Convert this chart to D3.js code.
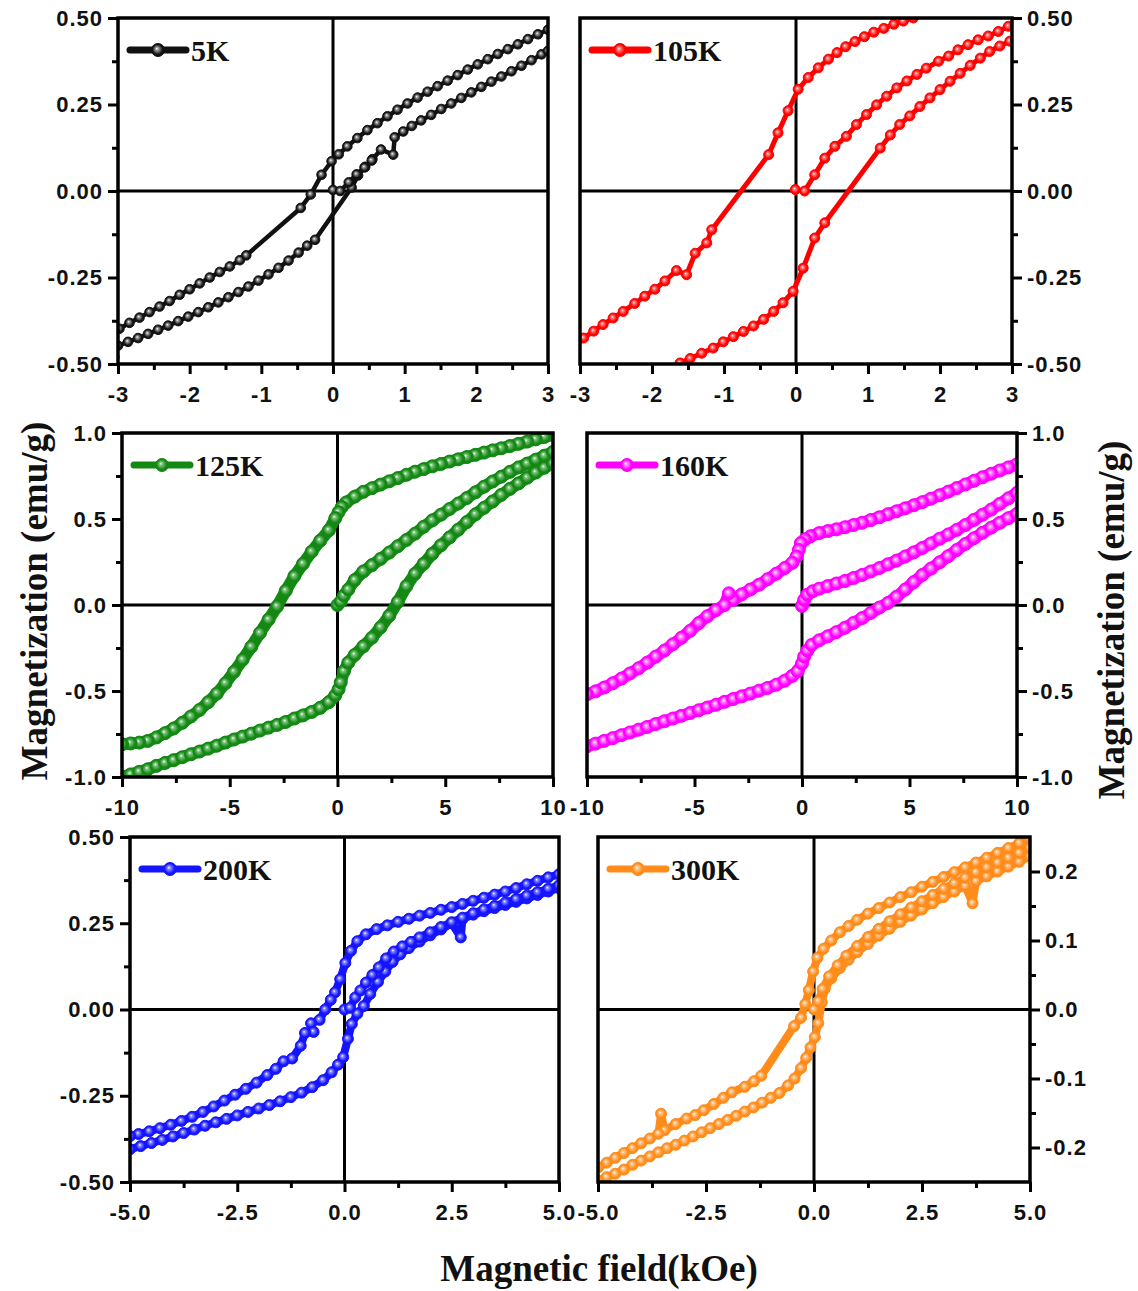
<!DOCTYPE html>
<html lang="en">
<head>
<meta charset="UTF-8">
<title>M-H hysteresis loops</title>
<script src="https://d3js.org/d3.v7.min.js"></script>
<style>
  body { margin: 0; background: #fff; }
  .tick text { font-family: "Liberation Sans", Arial, sans-serif; font-weight: bold; font-size: 22px; letter-spacing: 1px; fill: #111; }
  .tick line { stroke: #000; stroke-width: 3px; }
  .serif { font-family: "Liberation Serif", "Times New Roman", serif; font-weight: bold; fill: #111; }
</style>
</head>
<body>
<svg id="chart" width="1138" height="1291"></svg>
<script>
// ---- data: [field (kOe), magnetization (emu/g)] ----
const k5Desc = [[3.00,0.466],[2.86,0.453],[2.72,0.439],[2.58,0.424],[2.44,0.410],[2.30,0.396],[2.16,0.381],[2.02,0.366],[1.88,0.351],[1.74,0.335],[1.60,0.319],[1.46,0.303],[1.32,0.287],[1.18,0.270],[1.04,0.253],[0.90,0.235],[0.76,0.216],[0.62,0.196],[0.48,0.176],[0.34,0.153],[0.20,0.129],[0.08,0.106],[-0.02,0.086],[-0.16,0.047],[-0.31,-0.010],[-0.45,-0.049],[-1.21,-0.186],[-1.30,-0.200],[-1.44,-0.218],[-1.58,-0.234],[-1.72,-0.250],[-1.86,-0.267],[-2.00,-0.284],[-2.14,-0.300],[-2.28,-0.318],[-2.42,-0.334],[-2.56,-0.350],[-2.70,-0.366],[-2.84,-0.381],[-2.98,-0.398],[-3.05,-0.405]];
const k5Asc = [[-3.05,-0.480],[-3.00,-0.447],[-2.86,-0.436],[-2.72,-0.425],[-2.58,-0.413],[-2.44,-0.401],[-2.30,-0.389],[-2.16,-0.376],[-2.02,-0.363],[-1.88,-0.350],[-1.74,-0.336],[-1.60,-0.322],[-1.46,-0.307],[-1.32,-0.292],[-1.18,-0.276],[-1.04,-0.259],[-0.90,-0.241],[-0.76,-0.222],[-0.62,-0.201],[-0.48,-0.178],[-0.36,-0.158],[-0.25,-0.141],[0.26,0.010],[0.35,0.045],[0.45,0.070],[0.55,0.092],[0.67,0.120],[0.84,0.105],[0.86,0.155],[0.98,0.172],[1.10,0.188],[1.23,0.204],[1.37,0.220],[1.51,0.237],[1.65,0.253],[1.79,0.269],[1.93,0.285],[2.07,0.301],[2.21,0.316],[2.35,0.331],[2.49,0.346],[2.63,0.362],[2.77,0.378],[2.91,0.395],[3.00,0.405]];
const k5Virgin = [[0.00,0.003],[0.10,0.000],[0.22,0.025],[0.33,0.048],[0.44,0.068],[0.54,0.088]];

const k105Desc = [[3.00,0.600],[2.80,0.588],[2.60,0.575],[2.40,0.562],[2.20,0.548],[2.00,0.533],[1.80,0.516],[1.63,0.500],[1.49,0.491],[1.36,0.482],[1.22,0.470],[1.08,0.459],[0.95,0.446],[0.82,0.432],[0.69,0.417],[0.57,0.400],[0.45,0.381],[0.31,0.356],[0.17,0.328],[0.03,0.294],[-0.11,0.232],[-0.25,0.168],[-0.38,0.105],[-1.17,-0.112],[-1.24,-0.150],[-1.40,-0.180],[-1.52,-0.242],[-1.66,-0.230],[-1.82,-0.260],[-1.96,-0.284],[-2.10,-0.304],[-2.24,-0.325],[-2.40,-0.348],[-2.54,-0.367],[-2.68,-0.386],[-2.81,-0.405],[-2.95,-0.425],[-3.05,-0.438]];
const k105Asc = [[-3.00,-0.600],[-2.60,-0.580],[-2.20,-0.555],[-1.90,-0.525],[-1.61,-0.497],[-1.47,-0.484],[-1.31,-0.469],[-1.15,-0.454],[-1.01,-0.436],[-0.87,-0.421],[-0.73,-0.406],[-0.59,-0.390],[-0.45,-0.371],[-0.31,-0.348],[-0.18,-0.323],[-0.04,-0.290],[0.10,-0.223],[0.26,-0.136],[0.40,-0.092],[1.17,0.124],[1.31,0.162],[1.44,0.192],[1.58,0.217],[1.72,0.244],[1.86,0.269],[2.00,0.293],[2.14,0.317],[2.28,0.340],[2.42,0.363],[2.56,0.384],[2.69,0.403],[2.83,0.419],[2.97,0.433],[3.05,0.440]];
const k105Virgin = [[-0.01,0.004],[0.12,0.000],[0.26,0.047],[0.40,0.095],[0.54,0.129],[0.70,0.158],[0.84,0.192],[0.98,0.221],[1.12,0.249],[1.26,0.274],[1.40,0.298],[1.54,0.318],[1.68,0.337],[1.81,0.355],[1.98,0.375],[2.12,0.390],[2.25,0.408],[2.39,0.423],[2.53,0.437],[2.67,0.448],[2.81,0.461],[2.95,0.476],[3.05,0.484]];

const k125Desc = [[10.0,0.990],[9.6,0.977],[9.2,0.963],[8.8,0.950],[8.4,0.937],[8.0,0.924],[7.6,0.911],[7.2,0.899],[6.8,0.886],[6.4,0.873],[6.0,0.860],[5.6,0.847],[5.2,0.834],[4.8,0.820],[4.4,0.806],[4.0,0.790],[3.6,0.775],[3.2,0.757],[2.8,0.738],[2.4,0.719],[2.0,0.700],[1.6,0.679],[1.2,0.658],[0.8,0.630],[0.4,0.596],[0.2,0.570],[0.05,0.540],[-0.1,0.505],[-0.4,0.434],[-0.8,0.374],[-1.2,0.310],[-1.6,0.240],[-2.0,0.168],[-2.4,0.083],[-2.8,-0.008],[-3.2,-0.085],[-3.6,-0.163],[-4.0,-0.243],[-4.4,-0.318],[-4.8,-0.388],[-5.2,-0.455],[-5.6,-0.515],[-6.0,-0.565],[-6.4,-0.610],[-6.8,-0.648],[-7.2,-0.685],[-7.6,-0.718],[-8.0,-0.745],[-8.4,-0.770],[-8.8,-0.790],[-9.2,-0.800],[-9.6,-0.805],[-10.0,-0.810]];
const k125Asc = [[-10.0,-1.000],[-9.6,-0.985],[-9.2,-0.970],[-8.8,-0.955],[-8.4,-0.935],[-8.0,-0.918],[-7.6,-0.902],[-7.2,-0.885],[-6.8,-0.868],[-6.4,-0.852],[-6.0,-0.835],[-5.6,-0.818],[-5.2,-0.800],[-4.8,-0.782],[-4.4,-0.765],[-4.0,-0.748],[-3.6,-0.730],[-3.2,-0.713],[-2.8,-0.697],[-2.4,-0.680],[-2.0,-0.660],[-1.6,-0.642],[-1.2,-0.622],[-0.8,-0.598],[-0.4,-0.565],[-0.1,-0.525],[0.05,-0.490],[0.15,-0.450],[0.3,-0.385],[0.5,-0.335],[0.8,-0.290],[1.2,-0.240],[1.6,-0.190],[2.0,-0.130],[2.4,-0.063],[2.8,0.018],[3.2,0.110],[3.6,0.182],[4.0,0.240],[4.4,0.298],[4.8,0.347],[5.2,0.393],[5.6,0.438],[6.0,0.482],[6.4,0.527],[6.8,0.565],[7.2,0.602],[7.6,0.640],[8.0,0.675],[8.4,0.707],[8.8,0.740],[9.2,0.770],[9.6,0.798],[10.0,0.824]];
const k125Virgin = [[0.0,0.000],[0.15,0.020],[0.3,0.055],[0.5,0.090],[0.8,0.145],[1.2,0.195],[1.6,0.232],[2.0,0.268],[2.4,0.305],[2.8,0.342],[3.2,0.378],[3.6,0.415],[4.0,0.455],[4.4,0.492],[4.8,0.525],[5.2,0.558],[5.6,0.590],[6.0,0.622],[6.4,0.655],[6.8,0.688],[7.2,0.718],[7.6,0.746],[8.0,0.774],[8.4,0.800],[8.8,0.822],[9.2,0.845],[9.6,0.868],[10.0,0.890]];

const k160Desc = [[10.0,0.818],[9.6,0.800],[9.2,0.782],[8.8,0.763],[8.4,0.743],[8.0,0.722],[7.6,0.701],[7.2,0.680],[6.8,0.659],[6.4,0.638],[6.0,0.618],[5.6,0.598],[5.2,0.580],[4.8,0.562],[4.4,0.545],[4.0,0.528],[3.6,0.510],[3.2,0.494],[2.8,0.478],[2.4,0.465],[2.0,0.452],[1.6,0.440],[1.2,0.430],[0.8,0.418],[0.4,0.400],[0.15,0.382],[-0.05,0.360],[-0.15,0.320],[-0.25,0.282],[-0.45,0.245],[-0.8,0.215],[-1.2,0.182],[-1.6,0.150],[-2.0,0.118],[-2.4,0.090],[-2.8,0.062],[-3.2,0.030],[-3.4,0.068],[-3.6,0.000],[-4.0,-0.030],[-4.4,-0.065],[-4.8,-0.105],[-5.2,-0.150],[-5.6,-0.190],[-6.0,-0.228],[-6.4,-0.265],[-6.8,-0.300],[-7.2,-0.335],[-7.6,-0.368],[-8.0,-0.398],[-8.4,-0.428],[-8.8,-0.455],[-9.2,-0.480],[-9.6,-0.502],[-10.0,-0.520]];
const k160Asc = [[-10.0,-0.822],[-9.6,-0.806],[-9.2,-0.790],[-8.8,-0.774],[-8.4,-0.757],[-8.0,-0.741],[-7.6,-0.725],[-7.2,-0.709],[-6.8,-0.692],[-6.4,-0.676],[-6.0,-0.660],[-5.6,-0.644],[-5.2,-0.628],[-4.8,-0.612],[-4.4,-0.596],[-4.0,-0.580],[-3.6,-0.563],[-3.2,-0.547],[-2.8,-0.531],[-2.4,-0.515],[-2.0,-0.498],[-1.6,-0.482],[-1.2,-0.464],[-0.8,-0.440],[-0.45,-0.412],[-0.2,-0.385],[0.0,-0.340],[0.1,-0.300],[0.25,-0.265],[0.45,-0.232],[0.8,-0.205],[1.2,-0.182],[1.6,-0.158],[2.0,-0.132],[2.4,-0.104],[2.8,-0.076],[3.2,-0.046],[3.6,-0.015],[4.0,0.012],[4.4,0.048],[4.8,0.090],[5.2,0.133],[5.6,0.175],[6.0,0.212],[6.4,0.248],[6.8,0.284],[7.2,0.320],[7.6,0.355],[8.0,0.388],[8.4,0.420],[8.8,0.450],[9.2,0.478],[9.6,0.505],[10.0,0.530]];
const k160Virgin = [[0.0,-0.005],[0.1,0.030],[0.25,0.060],[0.5,0.080],[0.8,0.095],[1.2,0.110],[1.6,0.125],[2.0,0.140],[2.4,0.157],[2.8,0.175],[3.2,0.195],[3.6,0.215],[4.0,0.237],[4.4,0.258],[4.8,0.282],[5.2,0.306],[5.6,0.332],[6.0,0.358],[6.4,0.385],[6.8,0.410],[7.2,0.437],[7.6,0.465],[8.0,0.495],[8.4,0.525],[8.8,0.555],[9.2,0.588],[9.6,0.620],[10.0,0.652]];

const k200Desc = [[5.0,0.392],[4.75,0.383],[4.5,0.373],[4.25,0.363],[4.0,0.352],[3.75,0.342],[3.5,0.333],[3.25,0.324],[3.0,0.315],[2.75,0.306],[2.5,0.297],[2.25,0.289],[2.0,0.280],[1.75,0.272],[1.5,0.263],[1.25,0.254],[1.0,0.244],[0.75,0.233],[0.5,0.218],[0.3,0.198],[0.15,0.170],[0.02,0.135],[-0.1,0.088],[-0.22,0.050],[-0.32,0.028],[-0.45,0.000],[-0.58,-0.030],[-0.78,-0.040],[-0.72,-0.065],[-0.92,-0.068],[-1.02,-0.105],[-1.22,-0.142],[-1.42,-0.150],[-1.60,-0.172],[-1.80,-0.190],[-2.05,-0.212],[-2.3,-0.230],[-2.55,-0.247],[-2.8,-0.264],[-3.05,-0.281],[-3.3,-0.297],[-3.55,-0.311],[-3.8,-0.323],[-4.05,-0.334],[-4.3,-0.344],[-4.55,-0.353],[-4.8,-0.361],[-5.0,-0.367]];
const k200Asc = [[-5.0,-0.405],[-4.75,-0.396],[-4.5,-0.387],[-4.25,-0.378],[-4.0,-0.368],[-3.75,-0.358],[-3.5,-0.348],[-3.25,-0.337],[-3.0,-0.327],[-2.75,-0.317],[-2.5,-0.307],[-2.25,-0.297],[-2.0,-0.287],[-1.75,-0.277],[-1.5,-0.266],[-1.25,-0.254],[-1.0,-0.241],[-0.75,-0.225],[-0.5,-0.205],[-0.3,-0.182],[-0.15,-0.160],[-0.03,-0.138],[0.08,-0.085],[0.17,-0.042],[0.3,-0.012],[0.45,0.010],[0.6,0.045],[0.78,0.080],[0.95,0.110],[1.12,0.138],[1.3,0.160],[1.5,0.178],[1.75,0.197],[2.0,0.215],[2.25,0.232],[2.5,0.250],[2.71,0.209],[2.75,0.262],[3.0,0.275],[3.25,0.285],[3.5,0.294],[3.75,0.303],[4.0,0.312],[4.25,0.322],[4.5,0.332],[4.75,0.342],[5.0,0.352]];
const k200Virgin = [[0.0,0.000],[0.13,0.005],[0.25,0.035],[0.37,0.055],[0.5,0.078],[0.65,0.100],[0.8,0.122],[0.97,0.148],[1.15,0.168],[1.35,0.183],[1.55,0.196],[1.75,0.209],[2.0,0.224],[2.25,0.239],[2.5,0.253],[2.75,0.266],[3.0,0.279],[3.25,0.290],[3.5,0.300],[3.75,0.310],[4.0,0.320],[4.25,0.330],[4.5,0.340],[4.75,0.350],[5.0,0.360]];

const k300Desc = [[5.0,0.248],[4.75,0.241],[4.5,0.234],[4.25,0.227],[4.0,0.220],[3.75,0.213],[3.5,0.206],[3.25,0.199],[3.0,0.192],[2.75,0.185],[2.5,0.178],[2.25,0.170],[2.0,0.163],[1.75,0.155],[1.5,0.147],[1.25,0.139],[1.0,0.130],[0.8,0.121],[0.6,0.112],[0.4,0.100],[0.22,0.088],[0.08,0.075],[-0.02,0.055],[-0.12,0.028],[-0.2,0.008],[-0.3,-0.012],[-0.46,-0.024],[-1.22,-0.096],[-1.39,-0.104],[-1.6,-0.112],[-1.9,-0.120],[-2.1,-0.128],[-2.32,-0.137],[-2.55,-0.146],[-2.75,-0.153],[-2.95,-0.158],[-3.2,-0.166],[-3.46,-0.175],[-3.54,-0.151],[-3.6,-0.180],[-3.8,-0.187],[-4.0,-0.194],[-4.2,-0.201],[-4.4,-0.208],[-4.6,-0.215],[-4.8,-0.222],[-5.0,-0.229]];
const k300Asc = [[-5.0,-0.248],[-4.8,-0.243],[-4.6,-0.238],[-4.4,-0.232],[-4.2,-0.225],[-4.0,-0.219],[-3.8,-0.213],[-3.6,-0.207],[-3.4,-0.201],[-3.2,-0.196],[-3.0,-0.190],[-2.8,-0.184],[-2.6,-0.178],[-2.4,-0.172],[-2.2,-0.166],[-2.0,-0.160],[-1.8,-0.154],[-1.6,-0.148],[-1.4,-0.142],[-1.2,-0.135],[-1.0,-0.128],[-0.8,-0.121],[-0.6,-0.110],[-0.45,-0.100],[-0.3,-0.085],[-0.18,-0.070],[-0.08,-0.055],[0.02,-0.040],[0.1,-0.020],[0.18,0.010],[0.25,0.030],[0.4,0.045],[0.6,0.060],[0.8,0.072],[1.0,0.083],[1.25,0.095],[1.5,0.107],[1.75,0.117],[2.0,0.127],[2.25,0.136],[2.5,0.145],[2.75,0.154],[3.0,0.163],[3.25,0.171],[3.5,0.179],[3.67,0.154],[3.75,0.186],[4.0,0.193],[4.25,0.200],[4.5,0.207],[4.75,0.214],[5.0,0.222]];
const k300Virgin = [[0.0,0.000],[0.1,0.012],[0.2,0.030],[0.35,0.048],[0.55,0.064],[0.75,0.078],[1.0,0.092],[1.25,0.105],[1.5,0.117],[1.75,0.128],[2.0,0.138],[2.25,0.148],[2.5,0.157],[2.75,0.166],[3.0,0.175],[3.25,0.183],[3.5,0.191],[3.75,0.199],[4.0,0.206],[4.25,0.213],[4.5,0.220],[4.75,0.227],[5.0,0.234]];

// ---- tick values ----
const hTicks3 = [-3, -2, -1, 0, 1, 2, 3];
const hMinor3 = [-2.5, -1.5, -0.5, 0.5, 1.5, 2.5];
const hTicks10 = [-10, -5, 0, 5, 10];
const hMinor10 = [-7.5, -2.5, 2.5, 7.5];
const hTicks5 = [-5, -2.5, 0, 2.5, 5];
const hMinor5 = [-3.75, -1.25, 1.25, 3.75];
const mTicksHalf = [-0.5, -0.25, 0, 0.25, 0.5];
const mMinorHalf = [-0.375, -0.125, 0.125, 0.375];
const mTicksOne = [-1, -0.5, 0, 0.5, 1];
const mMinorOne = [-0.75, -0.25, 0.25, 0.75];
const mTicks300 = [-0.2, -0.1, 0, 0.1, 0.2];
const mMinor300 = [-0.15, -0.05, 0.05, 0.15];

const labels = ['5K', '105K', '125K', '160K', '200K', '300K'];

// hyphen minus instead of d3's unicode minus
const fmt = s => d => d3.format(s)(d).replace('\u2212', '-');

const panels = [
  { name: labels[0], series: [k5Desc, k5Asc, k5Virgin], color: '#111111', light: '#9a9a9a',
    xDom: [-3, 3], yDom: [-0.5, 0.5], xT: hTicks3, xM: hMinor3, yT: mTicksHalf, yM: mMinorHalf,
    xF: fmt('d'), yF: fmt('.2f'), box: [118, 18, 430, 346], side: 'left', r: 4.8, lw: 4.5 },
  { name: labels[1], series: [k105Desc, k105Asc, k105Virgin], color: '#ff0000', light: '#ff8080',
    xDom: [-3, 3], yDom: [-0.5, 0.5], xT: hTicks3, xM: hMinor3, yT: mTicksHalf, yM: mMinorHalf,
    xF: fmt('d'), yF: fmt('.2f'), box: [580, 18, 432, 346], side: 'right', r: 5, lw: 5 },
  { name: labels[2], series: [k125Desc, k125Asc, k125Virgin], color: '#138813', light: '#7cc47c',
    xDom: [-10, 10], yDom: [-1, 1], xT: hTicks10, xM: hMinor10, yT: mTicksOne, yM: mMinorOne,
    xF: fmt('d'), yF: fmt('.1f'), box: [122, 433, 431, 344], side: 'left', r: 6.5, lw: 12 },
  { name: labels[3], series: [k160Desc, k160Asc, k160Virgin], color: '#ff00ff', light: '#ff90ff',
    xDom: [-10, 10], yDom: [-1, 1], xT: hTicks10, xM: hMinor10, yT: mTicksOne, yM: mMinorOne,
    xF: fmt('d'), yF: fmt('.1f'), box: [587, 433, 430, 344], side: 'right', r: 6.5, lw: 12 },
  { name: labels[4], series: [k200Desc, k200Asc, k200Virgin], color: '#1414ff', light: '#8a8aff',
    xDom: [-5, 5], yDom: [-0.5, 0.5], xT: hTicks5, xM: hMinor5, yT: mTicksHalf, yM: mMinorHalf,
    xF: fmt('.1f'), yF: fmt('.2f'), box: [130, 837, 429, 345], side: 'left', r: 5.5, lw: 8 },
  { name: labels[5], series: [k300Desc, k300Asc, k300Virgin], color: '#ff8c1a', light: '#ffc68c',
    xDom: [-5, 5], yDom: [-0.25, 0.25], xT: hTicks5, xM: hMinor5, yT: mTicks300, yM: mMinor300,
    xF: fmt('.1f'), yF: fmt('.1f'), box: [598, 837, 432, 345], side: 'right', r: 5.5, lw: 8 }
];

const svg = d3.select('#chart');
const defs = svg.append('defs');

panels.forEach((p, i) => {
  const [bx, by, bw, bh] = p.box;
  const x = d3.scaleLinear().domain(p.xDom).range([bx, bx + bw]);
  const y = d3.scaleLinear().domain(p.yDom).range([by + bh, by]);

  // shiny ball marker
  const grad = defs.append('radialGradient').attr('id', 'ball' + i)
    .attr('cx', '50%').attr('cy', '50%').attr('r', '55%').attr('fx', '40%').attr('fy', '38%');
  grad.append('stop').attr('offset', '0%').attr('stop-color', '#ffffff');
  grad.append('stop').attr('offset', '22%').attr('stop-color', p.light);
  grad.append('stop').attr('offset', '70%').attr('stop-color', p.color);

  defs.append('clipPath').attr('id', 'clip' + i)
    .append('rect').attr('x', bx).attr('y', by).attr('width', bw).attr('height', bh);

  const g = svg.append('g');
  const plot = g.append('g').attr('clip-path', `url(#clip${i})`);

  // zero lines
  plot.append('line').attr('x1', bx).attr('x2', bx + bw).attr('y1', y(0)).attr('y2', y(0))
    .attr('stroke', '#000').attr('stroke-width', 3);
  plot.append('line').attr('x1', x(0)).attr('x2', x(0)).attr('y1', by).attr('y2', by + bh)
    .attr('stroke', '#000').attr('stroke-width', 3);

  const line = d3.line().x(d => x(d[0])).y(d => y(d[1]));
  p.series.forEach(s => {
    plot.append('path').datum(s).attr('d', line)
      .attr('fill', 'none').attr('stroke', p.color).attr('stroke-width', p.lw)
      .attr('stroke-linejoin', 'round').attr('stroke-linecap', 'round');
  });
  p.series.forEach(s => {
    plot.append('g').selectAll('circle').data(s).join('circle')
      .attr('cx', d => x(d[0])).attr('cy', d => y(d[1])).attr('r', p.r)
      .attr('fill', `url(#ball${i})`).attr('stroke', p.color).attr('stroke-width', 1);
  });

  // frame
  g.append('rect').attr('x', bx).attr('y', by).attr('width', bw).attr('height', bh)
    .attr('fill', 'none').attr('stroke', '#000').attr('stroke-width', 3.5);

  // axes
  const yAxis = p.side === 'left' ? d3.axisLeft : d3.axisRight;
  const yPos = p.side === 'left' ? bx : bx + bw;
  g.append('g').attr('transform', `translate(${yPos},0)`)
    .call(yAxis(y).tickValues(p.yT).tickFormat(p.yF).tickSize(10).tickSizeOuter(0).tickPadding(5))
    .call(a => a.select('.domain').remove());
  g.append('g').attr('transform', `translate(${yPos},0)`)
    .call(yAxis(y).tickValues(p.yM).tickFormat('').tickSize(6).tickSizeOuter(0))
    .call(a => a.select('.domain').remove());
  g.append('g').attr('transform', `translate(0,${by + bh})`)
    .call(d3.axisBottom(x).tickValues(p.xT).tickFormat(p.xF).tickSize(10).tickSizeOuter(0).tickPadding(12))
    .call(a => a.select('.domain').remove());
  g.append('g').attr('transform', `translate(0,${by + bh})`)
    .call(d3.axisBottom(x).tickValues(p.xM).tickFormat('').tickSize(6).tickSizeOuter(0))
    .call(a => a.select('.domain').remove());

  // legend
  const lx = bx + 12, ly = by + 32;
  g.append('line').attr('x1', lx).attr('x2', lx + 56).attr('y1', ly).attr('y2', ly)
    .attr('stroke', p.color).attr('stroke-width', 7).attr('stroke-linecap', 'round');
  g.append('circle').attr('cx', lx + 28).attr('cy', ly).attr('r', 6.5)
    .attr('fill', `url(#ball${i})`).attr('stroke', p.color).attr('stroke-width', 1);
  g.append('text').attr('class', 'serif').attr('x', lx + 61).attr('y', ly).attr('dy', '0.35em')
    .style('font-size', '30px').text(p.name);
});

// axis titles
svg.append('text').attr('class', 'serif').style('font-size', '37px')
  .attr('text-anchor', 'middle').attr('transform', 'translate(47,601) rotate(-90)')
  .text('Magnetization (emu/g)');
svg.append('text').attr('class', 'serif').style('font-size', '37px')
  .attr('text-anchor', 'middle').attr('transform', 'translate(1124,620) rotate(-90)')
  .text('Magnetization (emu/g)');
svg.append('text').attr('class', 'serif').style('font-size', '37px')
  .attr('text-anchor', 'middle').attr('x', 599).attr('y', 1281)
  .text('Magnetic field(kOe)');
</script>
</body>
</html>
